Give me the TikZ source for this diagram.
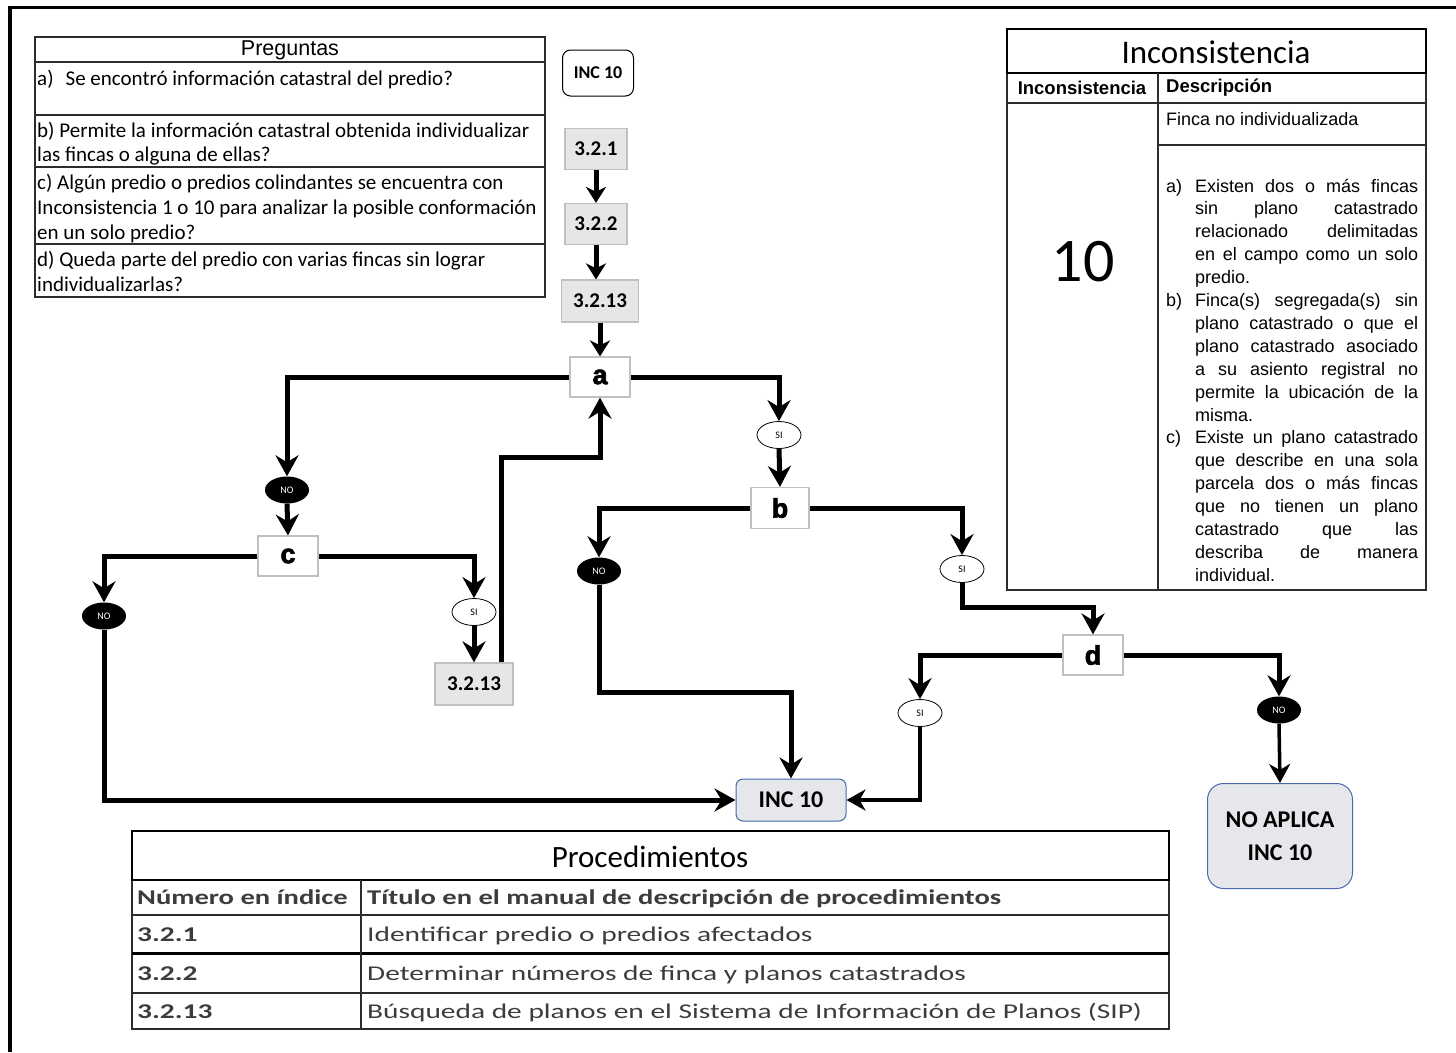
\documentclass[tikz,border=0pt]{standalone}
\usepackage{fontspec}
\usepackage{graphicx}
\setmainfont{Carlito}
\newfontfamily\arial{Liberation Sans}
\newfontfamily\heavy[RawFeature={embolden=2.5}]{Liberation Sans Bold}
\usetikzlibrary{arrows.meta,shapes.geometric,calc}
\definecolor{boxgray}{RGB}{230,230,230}
\definecolor{boxline}{RGB}{192,192,192}
\definecolor{incfill}{RGB}{230,231,235}
\definecolor{incline}{RGB}{70,105,175}
\definecolor{txtgray}{RGB}{60,60,60}
\definecolor{tabline}{RGB}{45,45,45}
\newcommand\stx[1]{\scalebox{1.4}[1]{#1}}
\newcommand\sth[1]{\scalebox{1.36}[1]{#1}}
\newcommand\jl[1]{\makebox[223pt][s]{#1}}
\newcommand\jlab[1]{\makebox[29pt][l]{#1}}
\begin{document}
\begin{tikzpicture}[x=1pt,y=-1pt,
 procbox/.style={draw=boxline, line width=1.2pt, fill=boxgray, minimum width=62pt, minimum height=41pt, inner sep=0pt, font=\fontsize{21}{25}\selectfont\bfseries},
 qbox/.style={draw=boxline, line width=1.2pt, fill=white, minimum width=60pt, minimum height=40pt, inner sep=0pt, font=\heavy\fontsize{27}{30}\selectfont},
 yesnode/.style={ellipse, draw=black, line width=0.8pt, fill=white, minimum width=44pt, minimum height=27pt, inner sep=0pt, font=\fontsize{10}{11}\selectfont},
 nonode/.style={ellipse, fill=black, text=white, minimum width=44pt, minimum height=27pt, inner sep=0pt, font=\fontsize{10}{11}\selectfont},
 flowarrow/.style={line width=5pt, -{Stealth[length=21pt,width=23pt,inset=7pt]}},
 thinarrow/.style={line width=3.5pt, -{Stealth[length=19pt,width=21pt,inset=6pt]}},
 shortarrow/.style={line width=5pt, -{Stealth[length=16pt,width=20pt,inset=5pt]}},
 incbox/.style={draw=incline, line width=1pt, fill=incfill, rounded corners=7pt, inner sep=0pt, font=\fontsize{24}{33}\selectfont\bfseries, align=center},
 tabtxt/.style={anchor=base west, inner sep=0pt},
]
\useasboundingbox (0,0) rectangle (1456,1052);
% outer frame (top and left)
\draw[line width=3.5pt] (8,7.5) -- (1456,7.5);
\draw[line width=4pt] (10,5.8) -- (10,1052);

% ---------- Preguntas table ----------
\draw[tabline, line width=1.4pt] (35,37) rectangle (545,297);
\foreach \yy in {62,115,167,244} \draw[tabline, line width=1.4pt] (35,\yy) -- (545,\yy);
\node[font=\arial\fontsize{21.5}{25}\selectfont, inner sep=0pt] (preg) at (290,50) {Preguntas};
\begin{scope}[every node/.style={tabtxt, font=\fontsize{21}{25}\selectfont}]
\node (qa) at (37,85) {a)\hspace{12pt}Se encontró información catastral del predio?};
\node (qb1) at (37,137) {b) Permite la información catastral obtenida individualizar};
\node (qb2) at (37,161) {las fincas o alguna de ellas?};
\node (qc1) at (37,189) {c) Algún predio o predios colindantes se encuentra con};
\node (qc2) at (37,214) {Inconsistencia 1 o 10 para analizar la posible conformación};
\node (qc3) at (37,239) {en un solo predio?};
\node (qd1) at (37,266) {d) Queda parte del predio con varias fincas sin lograr};
\node (qd2) at (37,291) {individualizarlas?};
\end{scope}

% ---------- Inconsistencia table ----------
\draw[tabline, line width=1.4pt] (1007,73) rectangle (1426,590);
\draw[black, line width=2.2pt] (1007,29) rectangle (1426,73);
\draw[tabline, line width=1.4pt] (1007,103) -- (1426,103);
\draw[tabline, line width=1.4pt] (1158,145) -- (1426,145);
\draw[tabline, line width=1.4pt] (1158,73) -- (1158,590);
\node[font=\fontsize{33}{38}\selectfont, inner sep=0pt] (inct) at (1216,52) {Inconsistencia};
\node[font=\arial\fontsize{18.5}{22}\selectfont\bfseries, inner sep=0pt] (inch) at (1082,88) {Inconsistencia};
\node[font=\arial\fontsize{18.5}{22}\selectfont\bfseries, inner sep=0pt, anchor=west] (desch) at (1166,88) {Descripción};
\node[font=\fontsize{62}{70}\selectfont, inner sep=0pt] (ten) at (1083,262) {10};
\node[tabtxt, font=\arial\fontsize{18}{22}\selectfont] (finca) at (1166,125) {Finca no individualizada};
\node[tabtxt, font=\arial\fontsize{18}{22.9}\selectfont] (desclist) at (1166,192) {\parbox[t]{260pt}{\fontsize{18}{22.9}\selectfont
\jlab{a)}\jl{Existen dos o más fincas}\\
\hspace*{29pt}\jl{sin plano catastrado}\\
\hspace*{29pt}\jl{relacionado delimitadas}\\
\hspace*{29pt}\jl{en el campo como un solo}\\
\hspace*{29pt}predio.\\
\jlab{b)}\jl{Finca(s) segregada(s) sin}\\
\hspace*{29pt}\jl{plano catastrado o que el}\\
\hspace*{29pt}\jl{plano catastrado asociado}\\
\hspace*{29pt}\jl{a su asiento registral no}\\
\hspace*{29pt}\jl{permite la ubicación de la}\\
\hspace*{29pt}misma.\\
\jlab{c)}\jl{Existe un plano catastrado}\\
\hspace*{29pt}\jl{que describe en una sola}\\
\hspace*{29pt}\jl{parcela dos o más fincas}\\
\hspace*{29pt}\jl{que no tienen un plano}\\
\hspace*{29pt}\jl{catastrado que las}\\
\hspace*{29pt}\jl{describa de manera}\\
\hspace*{29pt}individual.}};

% ---------- Procedimientos table ----------
\draw[tabline, line width=1.4pt] (132,880) rectangle (1169,1029);
\draw[black, line width=2pt] (132,831) rectangle (1169,880);
\draw[tabline, line width=1.4pt] (132,915) -- (1169,915);
\draw[black, line width=3pt] (132,953) -- (1169,953);
\draw[tabline, line width=1.4pt] (132,993) -- (1169,993);
\draw[tabline, line width=1.4pt] (361,880) -- (361,1029);
\node[font=\fontsize{31}{36}\selectfont, inner sep=0pt] (proct) at (650,857) {Procedimientos};
\begin{scope}[every node/.style={tabtxt, font=\fontsize{21}{24}\selectfont, text=txtgray}]
\node (ph1) at (137,904) {\sth{\bfseries Número en índice}};
\node (ph2) at (367,904) {\sth{\bfseries Título en el manual de descripción de procedimientos}};
\node (pr1a) at (137,941) {\stx{\bfseries 3.2.1}};
\node (pr1b) at (367,941) {\stx{Identificar predio o predios afectados}};
\node (pr2a) at (137,980) {\stx{\bfseries 3.2.2}};
\node (pr2b) at (367,980) {\stx{Determinar números de finca y planos catastrados}};
\node (pr3a) at (137,1018) {\stx{\bfseries 3.2.13}};
\node (pr3b) at (367,1018) {\stx{Búsqueda de planos en el Sistema de Información de Planos (SIP)}};
\end{scope}

% ---------- Flowchart nodes ----------
\node[draw=black, line width=1pt, rounded corners=8pt, fill=white, minimum width=71pt, minimum height=46pt, inner sep=0pt, font=\fontsize{18}{22}\selectfont\bfseries] (inctop) at (598,73) {INC 10};
\node[procbox] (p1) at (596,149) {3.2.1};
\node[procbox] (p2) at (596,224) {3.2.2};
\node[procbox, minimum width=77pt, minimum height=42pt] (p3) at (600,301) {3.2.13};
\node[qbox] (a) at (600,377) {a};
\node[nonode] (no1) at (287,490) {NO};
\node[qbox] (c) at (288,556) {c};
\node[nonode] (no3) at (104,616) {NO};
\node[yesnode] (si4) at (474,612) {SI};
\node[procbox, minimum width=78pt, minimum height=42pt] (p13b) at (474,684) {3.2.13};
\node[yesnode] (si1) at (779,435) {SI};
\node[qbox, minimum width=58pt, minimum height=41pt] (b) at (780,508) {b};
\node[nonode] (no2) at (599,571) {NO};
\node[yesnode] (si2) at (962,569) {SI};
\node[qbox] (d) at (1093,655) {d};
\node[yesnode] (si3) at (920,713) {SI};
\node[nonode] (no4) at (1279,710) {NO};
\node[incbox, minimum width=110pt, minimum height=42pt] (inc) at (791,800) {INC 10};
\node[incbox, rounded corners=16pt, minimum width=145pt, minimum height=105pt] (nap) at (1280,836) {NO APLICA\\INC 10};

\coordinate (k1) at (1000,607);
\coordinate (k2) at (700,692);
\coordinate (k3) at (501,457);

% ---------- Connectors ----------
\draw[shortarrow] (p1) -- (p2);
\draw[shortarrow] (p2.south) -- (p2.south |- p3.north);
\draw[shortarrow] (p3) -- (a);
\draw[flowarrow] (a.west) -| (no1.north);
\draw[flowarrow] (no1.south) -- (c.north);
\draw[flowarrow] (c.west) -| (no3.north);
\draw[flowarrow] (c.east) -| (si4.north);
\draw[flowarrow] (si4.south) -- (p13b.north);
\draw[flowarrow] (k3 |- p13b.north) -- (k3) -| (a.south);
\draw[flowarrow] (a.east) -| (si1.north);
\draw[flowarrow] (si1.south) -- (b.north);
\draw[flowarrow] (b.west) -| (no2.north);
\draw[flowarrow] (b.east) -| (si2.north);
\draw[flowarrow] (si2.south) |- (k1) -| (d.north);
\draw[flowarrow] (d.west) -| (si3.north);
\draw[flowarrow] (d.east) -| (no4.north);
\draw[flowarrow] (no3.south) |- (inc.west);
\draw[flowarrow] (no2.south) |- (k2) -| (inc.north);
\draw[thinarrow] (si3.south) |- (inc.east);
\draw[thinarrow] (no4.south) -- (nap.north);
\end{tikzpicture}
\end{document}
